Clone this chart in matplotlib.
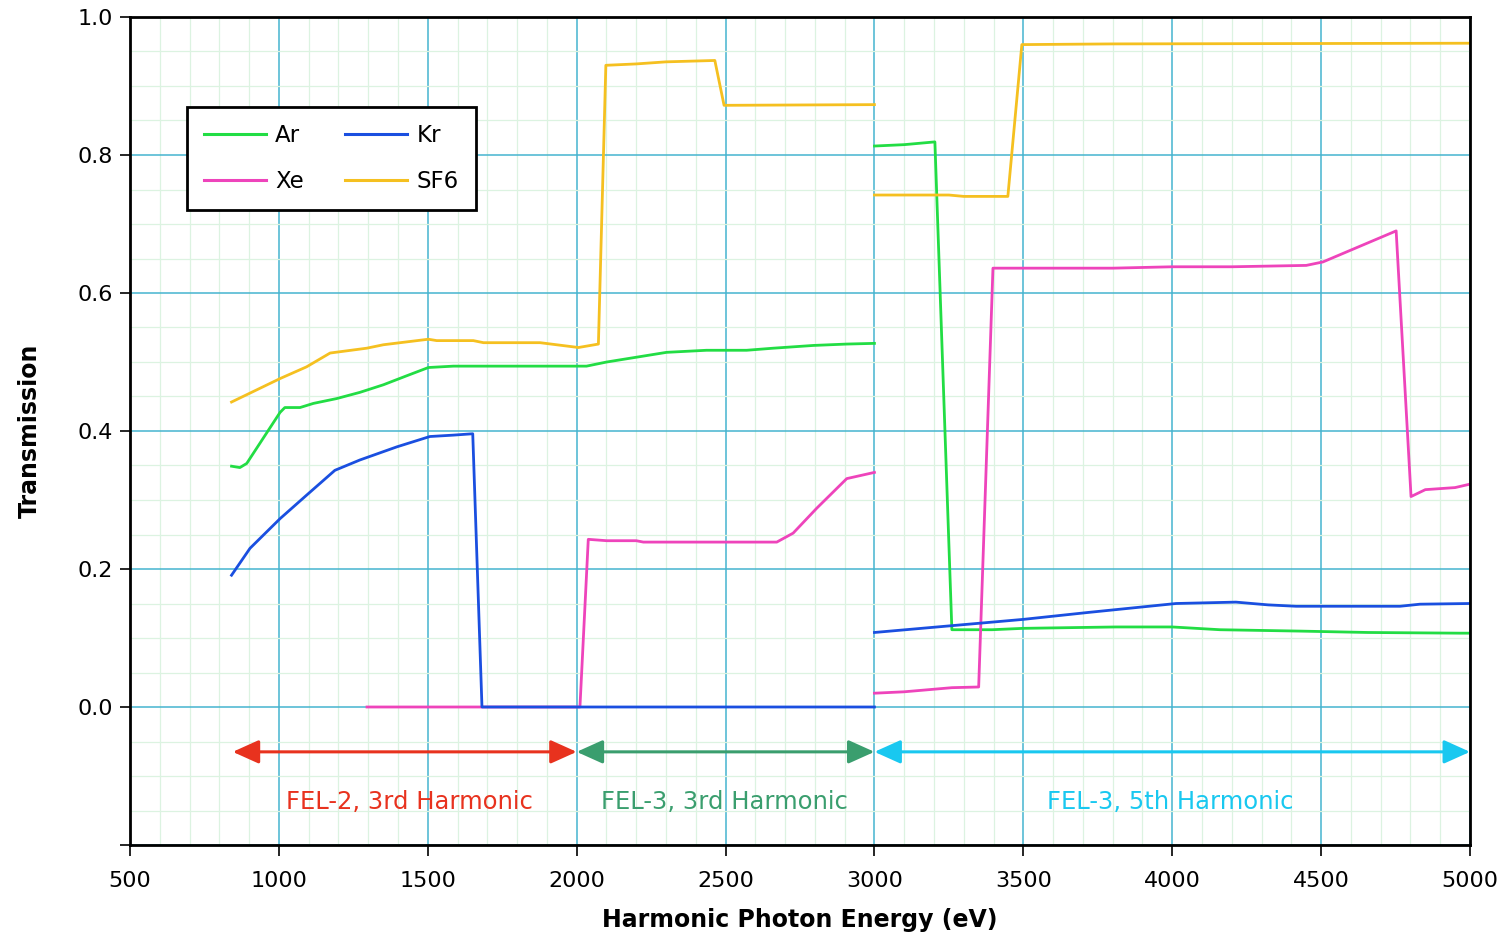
import matplotlib
matplotlib.use("Agg")
import matplotlib.pyplot as plt
from matplotlib.ticker import MultipleLocator

# ---- data ----
ar_x1 = [841, 869, 892, 1004, 1020, 1071, 1116, 1194, 1272, 1351, 1429, 1502, 1586, 1800, 2033, 2101, 2302, 2436, 2571, 2660, 2795, 2907, 3000]
ar_y1 = [0.349, 0.347, 0.353, 0.427, 0.434, 0.434, 0.440, 0.447, 0.456, 0.467, 0.480, 0.492, 0.494, 0.494, 0.494, 0.500, 0.514, 0.517, 0.517, 0.520, 0.524, 0.526, 0.527]
ar_x2 = [3000, 3100, 3203, 3260, 3395, 3500, 3811, 4000, 4160, 4429, 4657, 4966, 5000]
ar_y2 = [0.813, 0.815, 0.819, 0.112, 0.112, 0.114, 0.116, 0.116, 0.112, 0.110, 0.108, 0.107, 0.107]

kr_x1 = [841, 903, 1004, 1093, 1188, 1272, 1396, 1507, 1585, 1651, 1682, 2000, 3000]
kr_y1 = [0.191, 0.230, 0.273, 0.307, 0.343, 0.358, 0.377, 0.392, 0.394, 0.396, 0.0, 0.0, 0.0]
kr_x2 = [3000, 3500, 3717, 4013, 4214, 4322, 4416, 4765, 4832, 5000]
kr_y2 = [0.108, 0.127, 0.137, 0.150, 0.152, 0.148, 0.146, 0.146, 0.149, 0.150]

xe_x1 = [1296, 2011, 2039, 2101, 2200, 2224, 2672, 2727, 2806, 2907, 3000]
xe_y1 = [0.0, 0.0, 0.243, 0.241, 0.241, 0.239, 0.239, 0.252, 0.288, 0.331, 0.340]
xe_x2 = [3000, 3099, 3260, 3350, 3398, 3800, 4000, 4200, 4450, 4506, 4752, 4802, 4850, 4950, 5000]
xe_y2 = [0.020, 0.022, 0.028, 0.029, 0.636, 0.636, 0.638, 0.638, 0.640, 0.645, 0.690, 0.305, 0.315, 0.318, 0.323]

sf_x1 = [841, 1004, 1093, 1172, 1295, 1351, 1502, 1530, 1653, 1687, 1877, 2006, 2073, 2098, 2200, 2300, 2464, 2495, 3000]
sf_y1 = [0.442, 0.476, 0.493, 0.513, 0.520, 0.525, 0.533, 0.531, 0.531, 0.528, 0.528, 0.521, 0.526, 0.930, 0.932, 0.935, 0.937, 0.872, 0.873]
sf_x2 = [3000, 3250, 3300, 3448, 3495, 3800, 5000]
sf_y2 = [0.742, 0.742, 0.740, 0.740, 0.960, 0.961, 0.962]

ranges = [(845, 2000), (2000, 3000), (3000, 5000)]
range_labels = ["FEL-2, 3rd Harmonic", "FEL-3, 3rd Harmonic", "FEL-3, 5th Harmonic"]
label_x = [1437, 2495, 3993]

C_AR, C_KR, C_XE, C_SF = "#22dd44", "#1a4fe0", "#ee44bb", "#f5c020"
range_colors = ["#e8321e", "#3a9e6e", "#19c8f0"]

fig = plt.figure(figsize=(15.06, 9.36), dpi=100)
ax = fig.add_axes([130/1506, 91/936, 1340/1506, 828/936])

ax.set_xlim(500, 5000)
ax.set_ylim(-0.2, 1.0)
ax.xaxis.set_major_locator(MultipleLocator(500))
ax.xaxis.set_minor_locator(MultipleLocator(100))
ax.set_yticks([-0.2, 0.0, 0.2, 0.4, 0.6, 0.8, 1.0])
ax.set_yticklabels(["", "0.0", "0.2", "0.4", "0.6", "0.8", "1.0"])
ax.yaxis.set_minor_locator(MultipleLocator(0.05))
ax.grid(which="minor", color="#dcf3e1", linewidth=0.9)
ax.grid(which="major", color="#45b4cf", linewidth=1.1)
ax.set_axisbelow(True)
ax.tick_params(which="minor", length=0)
ax.tick_params(axis="x", which="major", length=8, width=1.2, direction="out", labelsize=16, pad=11)
ax.tick_params(axis="y", which="major", length=7, width=1.2, direction="out", labelsize=16, pad=5)
for s in ax.spines.values():
    s.set_linewidth(2)
    s.set_color("black")

lw = 2.0
ax.plot(ar_x1, ar_y1, color=C_AR, lw=lw, label="Ar")
ax.plot(ar_x2, ar_y2, color=C_AR, lw=lw)
ax.plot(xe_x1, xe_y1, color=C_XE, lw=lw, label="Xe")
ax.plot(xe_x2, xe_y2, color=C_XE, lw=lw)
ax.plot(kr_x1, kr_y1, color=C_KR, lw=lw, label="Kr")
ax.plot(kr_x2, kr_y2, color=C_KR, lw=lw)
ax.plot(sf_x1, sf_y1, color=C_SF, lw=lw, label="SF6")
ax.plot(sf_x2, sf_y2, color=C_SF, lw=lw)

for (x0, x1), c, lab, lx in zip(ranges, range_colors, range_labels, label_x):
    ax.annotate("", xy=(x1, -0.065), xytext=(x0, -0.065),
                arrowprops=dict(arrowstyle="<|-|>,head_length=1.0,head_width=0.45",
                                color=c, lw=2.2, mutation_scale=16,
                                shrinkA=0, shrinkB=0))
    ax.text(lx, -0.137, lab, color=c, fontsize=17.5, ha="center", va="center")

handles, labels = ax.get_legend_handles_labels()
leg = ax.legend(handles, labels, ncol=2, loc="upper left",
                bbox_to_anchor=((187-130)/1340, (845-107)/828), borderaxespad=0,
                fontsize=16.5, frameon=True, fancybox=False, edgecolor="black",
                handlelength=2.7, handletextpad=0.4, columnspacing=1.8,
                borderpad=0.75, labelspacing=1.0)
leg.get_frame().set_linewidth(2)
leg.get_frame().set_alpha(1)
for l in leg.get_lines():
    l.set_linewidth(2.2)

ax.set_xlabel("Harmonic Photon Energy (eV)", fontsize=17, fontweight="bold", labelpad=12)
ax.set_ylabel("Transmission", fontsize=17, fontweight="bold", labelpad=26)

fig.savefig("out.png", dpi=100, facecolor="white")
